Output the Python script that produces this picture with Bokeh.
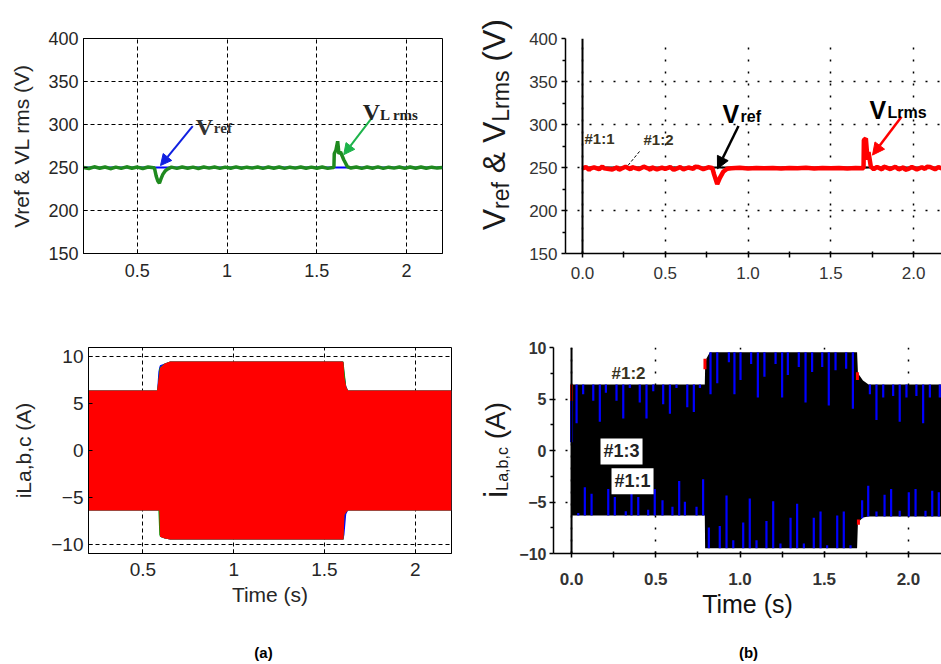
import numpy as np
from bokeh.plotting import figure
from bokeh.layouts import column, row
from bokeh.models import (Range1d, Label, Arrow, NormalHead, Span, FixedTicker,
                          NumeralTickFormatter, Div)
from bokeh.embed import file_html
from bokeh.resources import INLINE

SANS = "Liberation Sans"
SERIF = "Liberation Serif"

# ================= DATA =================
# ---- (a) top: Vref & VL rms ----
a_xticks = [0.5, 1.0, 1.5, 2.0]
a1_yticks = [150, 200, 250, 300, 350, 400]
a1_vref_t = [0.2, 2.2]
a1_vref = [250, 250]
a1_vl_t = [0.20, 0.23, 0.26, 0.29, 0.32, 0.35, 0.38, 0.41, 0.44, 0.47,
           0.50, 0.53, 0.56, 0.590, 0.595, 0.605, 0.614, 0.623, 0.632, 0.642,
           0.655, 0.670, 0.69, 0.72, 0.75, 0.78, 0.81, 0.84, 0.87, 0.90,
           0.93, 0.96, 0.99, 1.02, 1.05, 1.08, 1.11, 1.14, 1.17, 1.20,
           1.23, 1.26, 1.29, 1.32, 1.35, 1.38, 1.41, 1.44, 1.47, 1.50,
           1.53, 1.56, 1.590, 1.595, 1.597, 1.606, 1.616, 1.623, 1.632, 1.650,
           1.670, 1.69, 1.72, 1.75, 1.78, 1.81, 1.84, 1.87, 1.90, 1.93,
           1.96, 1.99, 2.02, 2.05, 2.08, 2.11, 2.14, 2.17, 2.20]
a1_vl = [250.0, 248.8, 250.8, 249.2, 250.6, 248.6, 250.4, 249.0, 250.8, 249.2,
         250.5, 248.8, 250.6, 249.8, 249.5, 240.0, 234.3, 231.7, 237.0, 242.0,
         246.0, 248.5, 250.4, 249.0, 250.6, 249.2, 250.4, 248.9, 250.6, 249.3,
         250.5, 249.0, 250.4, 249.2, 250.7, 249.1, 250.4, 249.3, 250.6, 249.0,
         250.5, 249.2, 250.6, 249.0, 250.4, 249.3, 250.6, 249.1, 250.4, 249.2,
         250.5, 249.0, 250.0, 250.0, 266.0, 270.0, 280.5, 266.0, 268.0, 259.0,
         251.0, 249.4, 250.6, 249.0, 250.5, 249.2, 250.7, 249.0, 250.4, 249.3,
         250.6, 249.0, 250.5, 249.2, 250.6, 249.1, 250.4, 249.3, 250.0]

# ---- (a) bottom: load currents envelope ----
a2_yticks = [-10, -5, 0, 5, 10]
a2_t =  [0.2, 0.578, 0.585, 0.590, 0.594, 0.62, 0.65, 1.600, 1.605, 1.610, 1.620, 1.630, 2.2]
a2_up = [6.4, 6.4, 7.5, 8.2, 8.8, 9.3, 9.5, 9.5, 9.4, 7.8, 6.8, 6.4, 6.4]
a2_lo = [-6.4, -6.4, -6.4, -6.4, -9.2, -9.4, -9.5, -9.5, -9.5, -6.9, -6.6, -6.4, -6.4]
a2_blue_up = [6.4, 6.4, 8.4, 8.9, 9.1, 9.3, 9.5, 9.5, 9.4, 8.2, 6.9, 6.4, 6.4]
a2_blue_lo = [-6.4, -6.4, -6.4, -6.4, -9.2, -9.4, -9.5, -9.5, -9.5, -9.0, -6.8, -6.4, -6.4]
a2_green_up = [6.4, 6.4, 7.5, 8.7, 8.9, 9.3, 9.5, 9.5, 9.5, 8.6, 6.8, 6.4, 6.4]
a2_green_lo = [-6.4, -6.4, -6.4, -9.0, -9.2, -9.4, -9.5, -9.5, -9.5, -6.9, -6.6, -6.4, -6.4]

# ---- (b) top: Vref & VLrms ----
b_xticks = [0.0, 0.5, 1.0, 1.5, 2.0]
b_xminor = [0.25, 0.75, 1.25, 1.75, 2.25]
b1_yticks = [150, 200, 250, 300, 350, 400]
b1_yminor = [175, 225, 275, 325, 375]
b1_vref_t = [0.0, 2.2]
b1_vref = [250, 250]
b1_vl_t = [0.00, 0.02, 0.04, 0.05, 0.07, 0.10, 0.12, 0.13, 0.15, 0.18,
           0.21, 0.22, 0.23, 0.26, 0.29, 0.30, 0.31, 0.34, 0.37, 0.40,
           0.41, 0.42, 0.45, 0.48, 0.50, 0.53, 0.55, 0.56, 0.59, 0.61,
           0.64, 0.67, 0.68, 0.70, 0.73, 0.76, 0.784,
           0.795, 0.814, 0.830, 0.850, 0.874, 0.90, 0.95, 1.00, 1.05, 1.10,
           1.15, 1.20, 1.25, 1.30, 1.35, 1.40, 1.45, 1.50, 1.55, 1.60,
           1.65, 1.698, 1.700, 1.712, 1.722, 1.728, 1.742, 1.76, 1.78, 1.81,
           1.82, 1.83, 1.86, 1.89, 1.91, 1.94, 1.95, 1.97, 1.99, 2.02, 2.05, 2.07,
           2.08, 2.10, 2.13, 2.15, 2.18, 2.20]
b1_vl = [249.0, 250.5, 247.2, 249.0, 250.2, 248.0, 251.2, 249.0, 248.5, 247.6,
         250.4, 247.4, 248.2, 250.8, 247.9, 250.5, 249.8, 248.0, 251.0, 248.6,
         247.3, 250.2, 247.8, 249.9, 248.3, 250.6, 247.5, 248.0, 250.4, 247.9,
         250.0, 248.4, 251.0, 250.6, 248.1, 250.2, 249.5,
         242.0, 230.8, 238.0, 245.0, 248.5, 249.2, 249.6, 248.8, 249.4, 249.0,
         249.5, 248.9, 249.4, 249.1, 249.6, 248.9, 249.3, 249.0, 249.5, 248.9,
         249.3, 249.0, 282.0, 283.8, 259.0, 268.0, 251.0, 248.0, 250.6, 247.8,
         250.9, 250.4, 248.2, 250.8, 247.9, 250.2, 247.3, 248.4, 250.6, 247.8, 250.3, 248.2,
         250.9, 250.6, 248.0, 250.4, 248.3, 249.5]

# ---- (b) bottom: load currents ----
b2_yticks = [-10, -5, 0, 5, 10]
b2_yminor = [-7.5, -2.5, 2.5, 7.5]
b2_t =  [0.0, 0.791, 0.793, 0.800, 0.821, 1.695, 1.700, 1.730, 1.763, 2.2]
b2_up = [6.4, 6.4, 8.0, 8.9, 9.55, 9.55, 7.5, 6.8, 6.4, 6.4]
b2_lo = [-6.3, -6.3, -9.5, -9.5, -9.5, -9.5, -7.0, -6.5, -6.4, -6.4]
b2_spk_up_t = [0.030, 0.069, 0.129, 0.168, 0.204, 0.267, 0.307, 0.346, 0.405, 0.445,
               0.485, 0.544, 0.584, 0.623, 0.687, 0.726, 0.762,
               0.825, 0.865, 0.934, 0.967, 1.003, 1.066, 1.106, 1.145, 1.211, 1.250,
               1.284, 1.349, 1.389, 1.428, 1.488, 1.527, 1.567, 1.630, 1.670,
               1.771, 1.810, 1.850, 1.909, 1.948, 1.988, 2.047, 2.087, 2.127, 2.186]
b2_spk_up_v = [2.65, 5.45, 4.83, 2.80, 5.60, 4.83, 3.10, 6.07, 4.67, 3.10,
               5.76, 4.50, 3.58, 6.07, 4.20, 3.74, 6.07,
               5.45, 6.54, 8.57, 5.45, 6.85, 8.41, 5.14, 7.17, 8.41, 5.14,
               7.32, 8.10, 4.67, 7.63, 8.10, 4.36, 7.79, 7.94, 4.05,
               5.45, 2.96, 5.14, 5.30, 2.80, 5.14, 5.30, 2.65, 5.14, 5.14]
b2_spk_lo_t = [0.040, 0.079, 0.119, 0.218, 0.257, 0.322, 0.356, 0.396, 0.455, 0.494,
               0.540, 0.599, 0.639, 0.673, 0.742, 0.781,
               0.815, 0.880, 0.920, 0.960, 1.019, 1.058, 1.098, 1.157, 1.197, 1.240,
               1.300, 1.339, 1.379, 1.438, 1.478, 1.517, 1.577, 1.616, 1.656,
               1.725, 1.761, 1.810, 1.858, 1.897, 1.948, 2.002, 2.042, 2.101, 2.141, 2.180]
b2_spk_lo_v = [-6.07, -3.58, -4.20, -3.74, -4.52, -5.90, -3.74, -4.52, -5.76, -3.74,
               -4.83, -5.45, -2.96, -4.98, -5.45, -2.80,
               -7.48, -7.32, -4.36, -8.72, -7.00, -4.67, -8.72, -6.85, -4.92, -9.03,
               -6.54, -5.17, -9.03, -6.54, -5.92, -9.19, -6.32, -5.92, -9.19,
               -4.83, -3.43, -5.92, -4.30, -3.74, -5.86, -4.05, -3.74, -5.86, -3.90, -4.05]
b2_red_t = [0.0, 0.792, 1.697, 1.703]
b2_red_y0 = [4.8, 7.9, 6.85, -7.2]
b2_red_y1 = [6.4, 8.9, 7.6, -6.7]
b2_blue_t = [0.0]
b2_blue_y0 = [0.8]
b2_blue_y1 = [4.8]

# ================= HELPERS =================
def make_fig(w, h, xr, yr, ml, mr, mt, mb):
    p = figure(width=w, height=h, x_range=Range1d(*xr), y_range=Range1d(*yr),
               output_backend="svg", toolbar_location=None,
               min_border_left=ml, min_border_right=mr,
               min_border_top=mt, min_border_bottom=mb)
    p.background_fill_color = "white"
    p.border_fill_color = "white"
    return p


def text_fig(w, h):
    p = figure(width=w, height=h, x_range=Range1d(0, w), y_range=Range1d(0, h),
               output_backend="svg", toolbar_location=None,
               x_axis_location=None, y_axis_location=None, min_border=0)
    p.grid.visible = False
    p.outline_line_color = None
    p.background_fill_color = "white"
    p.border_fill_color = "white"
    return p


def vertical_title(w, h, left, bottom, inner_html):
    html = ('<div style="position:relative;width:%dpx;height:%dpx;overflow:visible;">'
            '<span style="position:absolute;left:%dpx;bottom:%dpx;writing-mode:vertical-rl;'
            'transform:rotate(180deg);white-space:nowrap;line-height:1;'
            "font-family:'Liberation Sans',Arial,sans-serif;color:#1a1a1a;\">%s</span></div>"
            % (w, h, left, bottom, inner_html))
    return Div(text=html, width=w, height=h, margin=0,
               styles={"padding": "0", "margin": "0", "overflow": "visible"})


def style_matlab(p, yticks, fsize, label_color="#262626"):
    p.xaxis.ticker = FixedTicker(ticks=a_xticks)
    p.yaxis.ticker = FixedTicker(ticks=yticks)
    p.xaxis.formatter = NumeralTickFormatter(format="0.[0]")
    for ax in (p.xaxis[0], p.yaxis[0]):
        ax.major_tick_in = 4
        ax.major_tick_out = 0
        ax.minor_tick_in = 0
        ax.minor_tick_out = 0
        ax.major_tick_line_color = "black"
        ax.axis_line_color = "black"
        ax.major_label_text_font = SANS
        ax.major_label_text_font_size = fsize
        ax.major_label_text_color = label_color
        ax.axis_label_text_font = SANS
        ax.axis_label_text_font_style = "normal"
        ax.axis_label_text_color = label_color
    p.grid.grid_line_color = "black"
    p.grid.grid_line_dash = "4 3"
    p.grid.grid_line_width = 1
    p.outline_line_color = "black"
    p.outline_line_width = 1
    p.outline_line_alpha = 1


def style_scope(p, yticks, yminor, xfs, yfs, bold):
    p.xaxis.ticker = FixedTicker(ticks=b_xticks, minor_ticks=b_xminor)
    p.yaxis.ticker = FixedTicker(ticks=yticks, minor_ticks=yminor)
    p.xaxis.formatter = NumeralTickFormatter(format="0.0")
    for ax in (p.xaxis[0], p.yaxis[0]):
        ax.axis_line_color = "black"
        ax.axis_line_width = 1.5
        ax.major_tick_line_color = "black"
        ax.minor_tick_line_color = "black"
        ax.major_tick_line_width = 1.5
        ax.minor_tick_line_width = 1.5
        ax.major_label_text_font = SANS
        ax.major_label_text_color = "#333333"
        ax.major_label_text_font_style = "bold" if bold else "normal"
        ax.axis_label_text_font = SANS
        ax.axis_label_text_font_style = "normal"
        ax.axis_label_text_color = "#111111"
    p.xaxis.major_tick_in = 2
    p.xaxis.major_tick_out = 4
    p.xaxis.minor_tick_in = 2
    p.xaxis.minor_tick_out = 4
    p.yaxis.major_tick_in = 0
    p.yaxis.major_tick_out = 4
    p.yaxis.minor_tick_in = 0
    p.yaxis.minor_tick_out = 3
    p.xaxis.major_label_text_font_size = xfs
    p.yaxis.major_label_text_font_size = yfs
    p.grid.grid_line_color = "black"
    p.grid.grid_line_dash = "2 10"
    p.grid.grid_line_width = 1.5
    p.outline_line_color = None


def lab(p, x, y, text, size, color="black", font=SANS, style="normal", angle=0,
        align="left", baseline="alphabetic", bg=None, pad=0):
    kw = {}
    if bg is not None:
        kw = dict(background_fill_color=bg, padding=pad)
    p.add_layout(Label(x=x, y=y, text=text, text_font=font, text_font_size=size,
                       text_color=color, text_font_style=style, angle=angle,
                       text_align=align, text_baseline=baseline, **kw))


# ================= PANEL (a) TOP =================
pa1 = make_fig(470, 300, (0.2, 2.2), (150, 400), 83, 28, 38, 44)
style_matlab(pa1, a1_yticks, "18px")
pa1.xaxis.major_label_standoff = 10
pa1.yaxis.major_label_standoff = 5
pa1.yaxis.axis_label = "Vref & VL rms (V)"
pa1.yaxis.axis_label_text_font_size = "21px"
pa1.yaxis.axis_label_standoff = 12
pa1.line(a1_vref_t, a1_vref, line_color="#0000ff", line_width=2)
pa1.line(a1_vl_t, a1_vl, line_color="#1f8a1f", line_width=3.5)

ax1 = lambda px: 0.5 + (px - 138) / 178.3
ay1 = lambda py: 250 + (168 - py) / 0.872
pa1.add_layout(Arrow(end=NormalHead(size=11, fill_color="#1020e0", line_color="#1020e0"),
                     x_start=ax1(193), y_start=ay1(126), x_end=ax1(161), y_end=ay1(166),
                     line_color="#1020e0", line_width=2))
pa1.add_layout(Arrow(end=NormalHead(size=11, fill_color="#1db34a", line_color="#1db34a"),
                     x_start=ax1(370), y_start=ay1(119), x_end=ax1(343), y_end=ay1(155),
                     line_color="#1db34a", line_width=2))
lab(pa1, ax1(196), ay1(127), "V", "24px", "#333333", SERIF, "bold")
lab(pa1, ax1(214), ay1(128), "ref", "15px", "#333333", SERIF, "bold")
lab(pa1, ax1(362), ay1(112), "V", "24px", "#222222", SERIF, "bold")
lab(pa1, ax1(379), ay1(115), "L rms", "15px", "#222222", SERIF, "bold")

# ================= Y TITLE (b) TOP =================
lb1 = vertical_title(50, 300, 8, 70,
                     '<span style="font-size:32px;">V<sub style="font-size:23px;">ref</sub>'
                     ' &amp; V<sub style="font-size:23px;">Lrms</sub> (V)</span>')

# ================= PANEL (b) TOP =================
pb1 = make_fig(421, 300, (-0.1027, 2.169), (150, 400), 45, 0, 17, 47)
style_scope(pb1, b1_yticks, b1_yminor, "17px", "17px", False)
pb1.xaxis.major_label_standoff = 9
pb1.yaxis.major_label_standoff = 4
pb1.add_layout(Span(location=0, dimension="height", line_color="black", line_width=2))
pb1.line(b1_vref_t, b1_vref, line_color="black", line_width=2)
pb1.line(b1_vl_t, b1_vl, line_color="#ff0000", line_width=4.5)

bx1 = lambda px: (px - 582) / 165.5
by1 = lambda py: 400 - (py - 17) / 0.944
pb1.add_layout(Arrow(end=NormalHead(size=12, fill_color="black", line_color="black"),
                     x_start=bx1(738), y_start=by1(113), x_end=bx1(717), y_end=by1(160),
                     line_color="black", line_width=2.5))
pb1.add_layout(Arrow(end=NormalHead(size=12, fill_color="#ff0000", line_color="#ff0000"),
                     x_start=bx1(901), y_start=by1(103), x_end=bx1(872), y_end=by1(145),
                     line_color="#ff0000", line_width=2.5))
lab(pb1, bx1(722), by1(100), "V", "25px", "black", SANS, "bold")
lab(pb1, bx1(740), by1(103), "ref", "16px", "black", SANS, "bold")
lab(pb1, bx1(869), by1(95), "V", "25px", "black", SANS, "bold")
lab(pb1, bx1(887), by1(98), "Lrms", "16px", "black", SANS, "bold")
lab(pb1, bx1(599), by1(127), "#1:1", "15px", "#3a3320", SANS, "bold", align="center", baseline="middle")
lab(pb1, bx1(658), by1(128), "#1:2", "15px", "#3a3320", SANS, "bold", align="center", baseline="middle")
pb1.segment(x0=[bx1(639)], y0=[by1(141)], x1=[bx1(627)], y1=[by1(157)],
            line_color="black", line_width=1, line_dash="3 2")

# ================= PANEL (a) BOTTOM =================
pa2 = make_fig(470, 336, (0.2, 2.2), (-11, 11), 88, 19, 47, 83)
style_matlab(pa2, a2_yticks, "19px")
pa2.xaxis.major_label_standoff = 9
pa2.yaxis.major_label_standoff = 5
pa2.yaxis.axis_label = "iLa,b,c (A)"
pa2.yaxis.axis_label_text_font_size = "21px"
pa2.yaxis.axis_label_standoff = 13
pa2.xaxis.axis_label = "Time (s)"
pa2.xaxis.axis_label_text_font_size = "21px"
pa2.xaxis.axis_label_standoff = 4
pa2.varea(x=a2_t, y1=a2_blue_lo, y2=a2_blue_up, fill_color="#0000ff")
pa2.varea(x=a2_t, y1=a2_green_lo, y2=a2_green_up, fill_color="#00a000")
pa2.varea(x=a2_t, y1=a2_lo, y2=a2_up, fill_color="#ff0000")

# ================= Y TITLE (b) BOTTOM =================
lb2 = vertical_title(45, 336, 9, 138,
                     '<span style="font-size:28px;"><span style="font-size:33px;">i</span>'
                     '<sub style="font-size:16px;">La,b,c</sub> (A)</span>')

# ================= PANEL (b) BOTTOM =================
pb2 = make_fig(426, 336, (-0.107, 2.196), (-10, 10), 38, 0, 43, 79)
style_scope(pb2, b2_yticks, b2_yminor, "17px", "16px", True)
pb2.xaxis.major_label_standoff = 15
pb2.yaxis.major_label_standoff = 3
pb2.xaxis.axis_label = "Time (s)"
pb2.xaxis.axis_label_text_font_size = "25px"
pb2.xaxis.axis_label_standoff = 2
pb2.varea(x=b2_t, y1=b2_lo, y2=b2_up, fill_color="black")
up_base = np.interp(b2_spk_up_t, b2_t, b2_up)
lo_base = np.interp(b2_spk_lo_t, b2_t, b2_lo)
pb2.segment(x0=b2_spk_up_t, y0=up_base, x1=b2_spk_up_t, y1=b2_spk_up_v,
            line_color="#0000ff", line_width=2.2)
pb2.segment(x0=b2_spk_lo_t, y0=lo_base, x1=b2_spk_lo_t, y1=b2_spk_lo_v,
            line_color="#0000ff", line_width=2.2)
pb2.segment(x0=b2_red_t, y0=b2_red_y0, x1=b2_red_t, y1=b2_red_y1,
            line_color="#ff0000", line_width=3)
pb2.segment(x0=b2_blue_t, y0=b2_blue_y0, x1=b2_blue_t, y1=b2_blue_y1,
            line_color="#0000ff", line_width=3)
pb2.add_layout(Span(location=0, dimension="height", line_color="black", line_width=2))
bx2 = lambda px: (px - 571) / 168.5
by2 = lambda py: (450 - py) / 10.7
lab(pb2, bx2(628), by2(370), "#1:2", "17px", "#3a3320", SANS, "bold", align="center", baseline="middle")
lab(pb2, bx2(621), by2(451), "#1:3", "18px", "#222222", SANS, "bold", align="center",
    baseline="middle", bg="white", pad=3)
lab(pb2, bx2(632), by2(482), "#1:1", "18px", "#222222", SANS, "bold", align="center",
    baseline="middle", bg="white", pad=3)

# ================= CAPTIONS =================
cap = text_fig(941, 28)
lab(cap, 263, 12, "(a)", "15px", "black", SANS, "bold", align="center", baseline="middle")
lab(cap, 748, 12, "(b)", "15px", "black", SANS, "bold", align="center", baseline="middle")

layout = column(row(pa1, lb1, pb1, spacing=0),
                row(pa2, lb2, pb2, spacing=0),
                cap, spacing=0)
open("out.html", "w").write(file_html(layout, INLINE))
